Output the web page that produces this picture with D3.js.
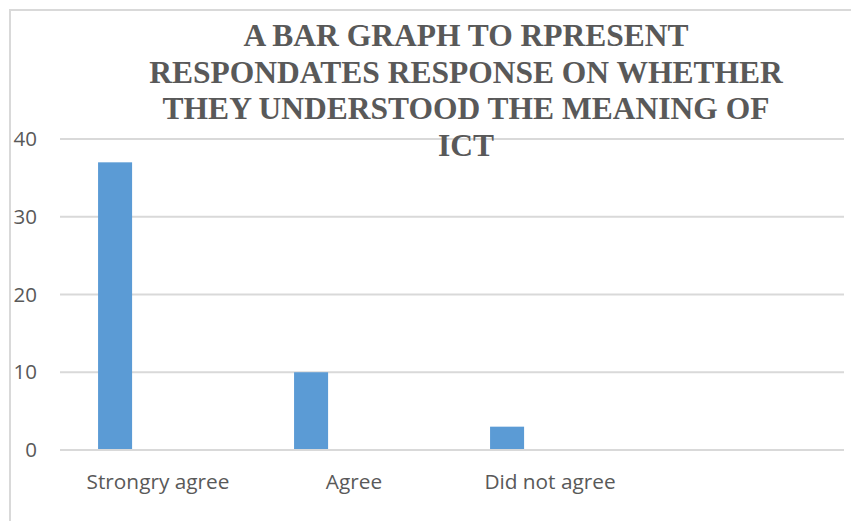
<!DOCTYPE html>
<html><head><meta charset="utf-8">
<script src="https://cdn.jsdelivr.net/npm/d3@7"></script>
<style>html,body{margin:0;padding:0;background:#fff;}svg{display:block;}</style>
</head><body>
<script>
const categories = ["Strongry agree", "Agree", "Did not agree", ""];
const values = [37, 10, 3, null];
const seriesNames = ["Responses"];
const yTicks = [0, 10, 20, 30, 40];
const titleLines = ["A BAR GRAPH TO RPRESENT", "RESPONDATES RESPONSE ON WHETHER", "THEY UNDERSTOOD THE MEANING OF", "ICT"];

const W = 851, H = 521;
const svg = d3.select("body").append("svg").attr("width", W).attr("height", H);

// chart area border
svg.append("rect").attr("x", 10).attr("y", 10).attr("width", W + 10).attr("height", H + 10)
  .attr("fill", "#fff").attr("stroke", "#d9d9d9").attr("stroke-width", 2);

const x = d3.scaleBand().domain(categories).range([60, 844]);
const xSub = d3.scaleBand().domain(seriesNames).range([0, x.bandwidth()]).paddingOuter(2.38).align(0.235);
const y = d3.scaleLinear().domain([0, 40]).range([450, 139]);

// gridlines
svg.append("g").selectAll("line").data(yTicks).join("line")
  .attr("x1", 60).attr("x2", 844)
  .attr("y1", d => y(d)).attr("y2", d => y(d))
  .attr("stroke", "#d9d9d9").attr("stroke-width", 2);

// y labels
svg.append("g").selectAll("text").data(yTicks).join("text")
  .attr("x", 37).attr("y", d => y(d)).attr("dy", "0.35em")
  .attr("text-anchor", "end")
  .style("font-family", '"Open Sans", sans-serif').style("font-size", "20.5px")
  .attr("fill", "#595959").text(d => d);

// bars
const data = categories.map((c, i) => ({c, v: values[i]})).filter(d => d.v != null);
svg.append("g").selectAll("rect").data(data).join("rect")
  .attr("x", d => x(d.c) + xSub(seriesNames[0]))
  .attr("width", xSub.bandwidth())
  .attr("y", d => y(d.v))
  .attr("height", d => y(0) - y(d.v) - 1)
  .attr("fill", "#5b9bd5");

// x labels
svg.append("g").selectAll("text").data(categories).join("text")
  .attr("x", d => x(d) + x.bandwidth() / 2).attr("y", 489)
  .attr("text-anchor", "middle")
  .style("font-family", '"Open Sans", sans-serif').style("font-size", "20.8px")
  .attr("fill", "#595959").text(d => d);

// title
svg.append("g").selectAll("text").data(titleLines).join("text")
  .attr("x", 466).attr("y", (d, i) => 46 + i * 36.5)
  .attr("text-anchor", "middle")
  .style("font-family", '"Liberation Serif", "Times New Roman", serif')
  .style("font-weight", "bold").style("font-size", "31.5px")
  .attr("fill", "#595959").text(d => d);
</script>
</body></html>
